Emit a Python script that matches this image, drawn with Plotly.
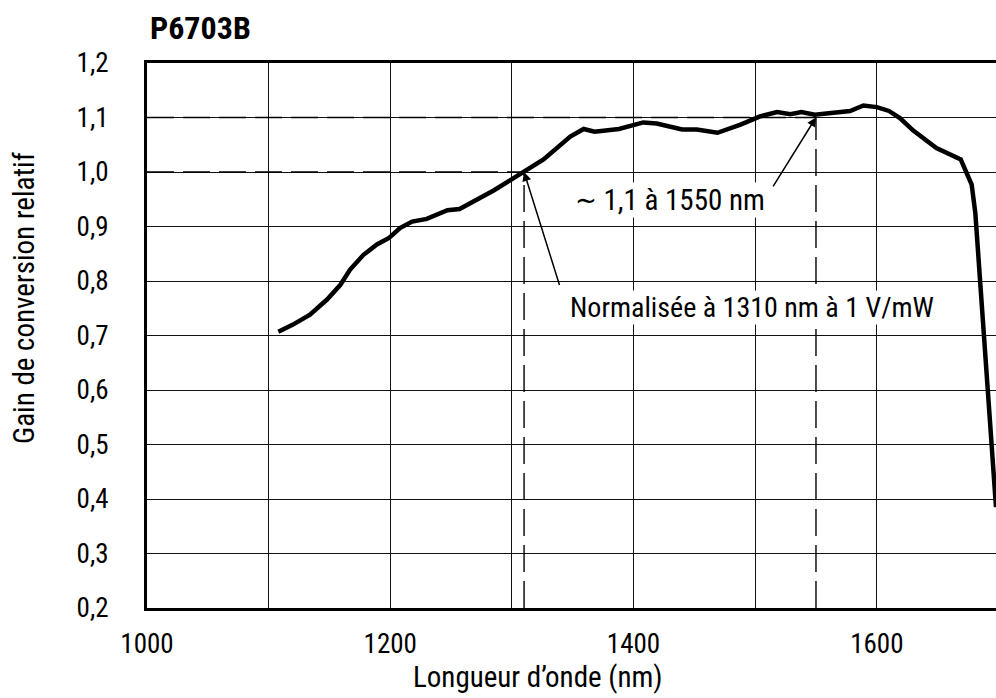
import plotly.graph_objects as go

# ---- data ----
wavelength_nm = [1108, 1120, 1134, 1148, 1159, 1167, 1178, 1189, 1199, 1208, 1218, 1230,
                 1247, 1257, 1285, 1310, 1326, 1348, 1359, 1368, 1388, 1408, 1419, 1440,
                 1452, 1469, 1488, 1504, 1518, 1529, 1538, 1549, 1564, 1578, 1589, 1600,
                 1610, 1619, 1630, 1649, 1669, 1678, 1681, 1698]
relative_gain = [0.707, 0.720, 0.738, 0.766, 0.793, 0.821, 0.848, 0.867, 0.879, 0.897, 0.909, 0.914,
                 0.930, 0.932, 0.966, 1.000, 1.023, 1.065, 1.079, 1.074, 1.079, 1.091, 1.089, 1.078,
                 1.078, 1.072, 1.087, 1.102, 1.110, 1.106, 1.110, 1.105, 1.109, 1.112, 1.122, 1.119,
                 1.112, 1.099, 1.076, 1.044, 1.023, 0.977, 0.925, 0.385]

x_tick_vals = [1000, 1100, 1200, 1300, 1400, 1500, 1600]
x_tick_text = ["1000", "", "1200", "", "1400", "", "1600"]
y_tick_vals = [0.2, 0.3, 0.4, 0.5, 0.6, 0.7, 0.8, 0.9, 1.0, 1.1, 1.2]
y_tick_text = ["0,2", "0,3", "0,4", "0,5", "0,6", "0,7", "0,8", "0,9", "1,0", "1,1", "1,2"]

norm_wl, norm_gain = 1310, 1.0
ref_wl, ref_gain = 1550, 1.1

x_min, x_max = 1000, 1698
y_min, y_max = 0.2, 1.2

FONT = "Roboto Condensed, Liberation Sans Narrow, DejaVu Sans Condensed, sans-serif"
DASH = "27px,9px"

# plot area in page pixels: x 147..996, y 63..608
PL, PT, PW, PH = 147, 63, 849, 545
W, H = 996, 698


def px(xp):
    return (xp - PL) / PW


def py(yp):
    return (PT + PH - yp) / PH


fig = go.Figure()

# reference dashed lines
for xs, ys in [([x_min, ref_wl], [ref_gain, ref_gain]),
               ([x_min, norm_wl], [norm_gain, norm_gain]),
               ([norm_wl, norm_wl], [y_min, norm_gain]),
               ([ref_wl, ref_wl], [y_min, ref_gain])]:
    fig.add_trace(go.Scatter(x=xs, y=ys, mode="lines", hoverinfo="skip",
                             line=dict(color="black", width=1.4, dash=DASH),
                             showlegend=False))

fig.add_trace(go.Scatter(x=wavelength_nm, y=relative_gain, mode="lines",
                         line=dict(color="black", width=4.5),
                         showlegend=False, cliponaxis=True))

ann = []
# arrows
ann.append(dict(x=norm_wl, y=norm_gain, xref="x", yref="y", ax=1339.5, ay=0.79,
                axref="x", ayref="y", text="", showarrow=True, arrowhead=2,
                arrowsize=1.2, arrowwidth=1.5, arrowcolor="black"))
ann.append(dict(x=ref_wl, y=ref_gain, xref="x", yref="y", ax=1514, ay=0.971,
                axref="x", ayref="y", text="", showarrow=True, arrowhead=2,
                arrowsize=1.2, arrowwidth=1.5, arrowcolor="black"))
# texts
ann.append(dict(x=px(752), y=py(307), xref="paper", yref="paper",
                text="Normalisée à 1310 nm à 1 V/mW", showarrow=False,
                font=dict(family=FONT, size=28, color="black"),
                bgcolor="white", borderpad=0, xanchor="center", yanchor="middle"))
ann.append(dict(x=px(670), y=py(200), xref="paper", yref="paper",
                text="∼ 1,1 à 1550 nm", showarrow=False,
                font=dict(family=FONT, size=29, color="black"),
                bgcolor="white", borderpad=0, xanchor="center", yanchor="middle"))
# titles
ann.append(dict(x=px(148), y=py(28), xref="paper", yref="paper",
                text="<b>P6703B</b>", showarrow=False, xanchor="left", yanchor="middle",
                font=dict(family=FONT, size=32, color="black")))
ann.append(dict(x=px(538), y=py(677), xref="paper", yref="paper",
                text="Longueur d’onde (nm)", showarrow=False, xanchor="center", yanchor="middle",
                font=dict(family=FONT, size=29, color="black")))
ann.append(dict(x=px(24), y=py(298), xref="paper", yref="paper",
                text="Gain de conversion relatif", showarrow=False, textangle=-90,
                xanchor="center", yanchor="middle",
                font=dict(family=FONT, size=29, color="black")))

fig.update_layout(
    width=W, height=H,
    margin=dict(l=PL, r=W - PL - PW, t=PT, b=H - PT - PH),
    paper_bgcolor="white", plot_bgcolor="white",
    font=dict(family=FONT, size=27, color="black"),
    annotations=ann,
    showlegend=False,
)
fig.update_xaxes(range=[x_min, x_max], tickvals=x_tick_vals, ticktext=x_tick_text,
                 showgrid=True, gridcolor="#111", gridwidth=1,
                 showline=True, linecolor="black", linewidth=3, mirror=True,
                 ticks="outside", ticklen=10, tickcolor="rgba(0,0,0,0)",
                 zeroline=False, tickfont=dict(family=FONT, size=27))
fig.update_yaxes(range=[y_min, y_max], tickvals=y_tick_vals, ticktext=y_tick_text,
                 showgrid=True, gridcolor="#111", gridwidth=1,
                 showline=True, linecolor="black", linewidth=3, mirror=False,
                 ticks="outside", ticklen=30, tickcolor="rgba(0,0,0,0)",
                 zeroline=False, tickfont=dict(family=FONT, size=27))

fig.write_html("out.html",
               config={"displayModeBar": False},
               post_script="document.body.style.margin='0';"
                           "document.documentElement.style.overflow='hidden';")
